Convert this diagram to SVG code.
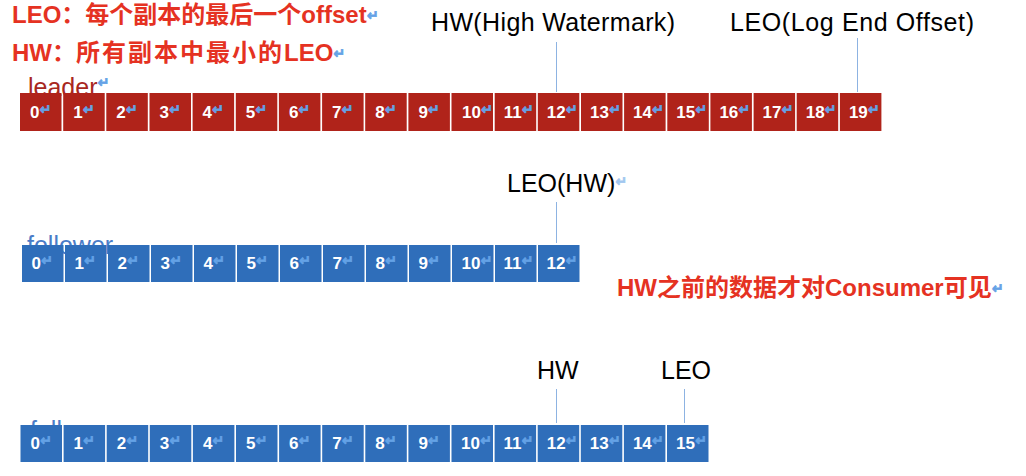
<svg xmlns="http://www.w3.org/2000/svg" width="1026" height="476" viewBox="0 0 1026 476">
<style>
.lb{fill:#b0231a}
.fb{fill:#2f6eba}
.n{font-family:"Liberation Sans",Arial,sans-serif;font-weight:bold;font-size:17px;fill:#fff}
.r{font-family:"DejaVu Sans",sans-serif;font-weight:bold;font-size:14px;fill:#64a2e6;stroke:#64a2e6;stroke-width:0.7}
.lbl{font-family:"Liberation Sans",Arial,sans-serif;font-size:25px;fill:#000}
.red{font-family:"Liberation Sans","Noto Sans CJK SC",sans-serif;font-weight:bold;font-size:24px;fill:#e53222}
.row{font-family:"Liberation Sans",Arial,sans-serif;font-size:25px}
.conn line{stroke:#8db3e2;stroke-width:1}
</style>
<defs>
<clipPath id="hide3"><rect x="0" y="400" width="200" height="25"/></clipPath>
</defs>
<rect width="1026" height="476" fill="#fff"/>

<g id="notes">
<text class="red" x="12" y="23">LEO：每个副本的最后一个offset<tspan class="r" font-size="16" dy="-3">↵</tspan></text>
<text class="red" x="12" y="61">HW：<tspan letter-spacing="2">所有副本中最小的</tspan>LEO<tspan class="r" font-size="16" dy="-3">↵</tspan></text>
<text class="red" x="617" y="296">HW之前的数据才对Consumer可见<tspan class="r" font-size="16" dy="-3">↵</tspan></text>
</g>

<g id="row-labels">
<text class="row" x="28" y="96" fill="#a8281e">leader<tspan class="r" font-size="14" dy="-9">↵</tspan></text>
<text class="row" x="27" y="254" fill="#4a7cc8">follower</text>
<g clip-path="url(#hide3)"><text class="row" x="30" y="439" fill="#4a7cc8">follower</text></g>
</g>

<g id="labels">
<text class="lbl" x="431" y="31" textLength="244">HW(High Watermark)</text>
<text class="lbl" x="730" y="31" textLength="244">LEO(Log End Offset)</text>
<text class="lbl" x="507" y="192">LEO(HW)<tspan class="r" font-size="11" dy="-6" opacity="0.6">↵</tspan></text>
<text class="lbl" x="537" y="379">HW</text>
<text class="lbl" x="661" y="379">LEO</text>
</g>

<g id="connectors" class="conn">
<line x1="556.5" y1="42" x2="556.5" y2="92"/>
<line x1="857.5" y1="38" x2="857.5" y2="92"/>
<line x1="556.5" y1="202" x2="556.5" y2="243"/>
<line x1="556.5" y1="389" x2="556.5" y2="423"/>
<line x1="684.5" y1="389" x2="684.5" y2="423"/>
</g>

<g id="leader">
<g id="leader-0"><rect class="lb" x="20" y="93" width="41.5" height="38"/><text class="n" x="30" y="117.5">0<tspan class="r" dy="-4">↵</tspan></text></g>
<g id="leader-1"><rect class="lb" x="63.2" y="93" width="41.5" height="38"/><text class="n" x="73.2" y="117.5">1<tspan class="r" dy="-4">↵</tspan></text></g>
<g id="leader-2"><rect class="lb" x="106.3" y="93" width="41.5" height="38"/><text class="n" x="116.3" y="117.5">2<tspan class="r" dy="-4">↵</tspan></text></g>
<g id="leader-3"><rect class="lb" x="149.5" y="93" width="41.5" height="38"/><text class="n" x="159.5" y="117.5">3<tspan class="r" dy="-4">↵</tspan></text></g>
<g id="leader-4"><rect class="lb" x="192.6" y="93" width="41.5" height="38"/><text class="n" x="202.6" y="117.5">4<tspan class="r" dy="-4">↵</tspan></text></g>
<g id="leader-5"><rect class="lb" x="235.8" y="93" width="41.5" height="38"/><text class="n" x="245.8" y="117.5">5<tspan class="r" dy="-4">↵</tspan></text></g>
<g id="leader-6"><rect class="lb" x="278.9" y="93" width="41.5" height="38"/><text class="n" x="288.9" y="117.5">6<tspan class="r" dy="-4">↵</tspan></text></g>
<g id="leader-7"><rect class="lb" x="322.1" y="93" width="41.5" height="38"/><text class="n" x="332.1" y="117.5">7<tspan class="r" dy="-4">↵</tspan></text></g>
<g id="leader-8"><rect class="lb" x="365.2" y="93" width="41.5" height="38"/><text class="n" x="375.2" y="117.5">8<tspan class="r" dy="-4">↵</tspan></text></g>
<g id="leader-9"><rect class="lb" x="408.4" y="93" width="41.5" height="38"/><text class="n" x="418.4" y="117.5">9<tspan class="r" dy="-4">↵</tspan></text></g>
<g id="leader-10"><rect class="lb" x="451.5" y="93" width="41.5" height="38"/><text class="n" x="462" y="117.5">10<tspan class="r" dy="-4">↵</tspan></text></g>
<g id="leader-11"><rect class="lb" x="494.7" y="93" width="41.5" height="38"/><text class="n" x="503.7" y="117.5">11<tspan class="r" dy="-4">↵</tspan></text></g>
<g id="leader-12"><rect class="lb" x="537.8" y="93" width="41.5" height="38"/><text class="n" x="546.8" y="117.5">12<tspan class="r" dy="-4">↵</tspan></text></g>
<g id="leader-13"><rect class="lb" x="581" y="93" width="41.5" height="38"/><text class="n" x="590" y="117.5">13<tspan class="r" dy="-4">↵</tspan></text></g>
<g id="leader-14"><rect class="lb" x="624.1" y="93" width="41.5" height="38"/><text class="n" x="633.1" y="117.5">14<tspan class="r" dy="-4">↵</tspan></text></g>
<g id="leader-15"><rect class="lb" x="667.3" y="93" width="41.5" height="38"/><text class="n" x="676.3" y="117.5">15<tspan class="r" dy="-4">↵</tspan></text></g>
<g id="leader-16"><rect class="lb" x="710.4" y="93" width="41.5" height="38"/><text class="n" x="719.4" y="117.5">16<tspan class="r" dy="-4">↵</tspan></text></g>
<g id="leader-17"><rect class="lb" x="753.6" y="93" width="41.5" height="38"/><text class="n" x="762.6" y="117.5">17<tspan class="r" dy="-4">↵</tspan></text></g>
<g id="leader-18"><rect class="lb" x="796.7" y="93" width="41.5" height="38"/><text class="n" x="805.7" y="117.5">18<tspan class="r" dy="-4">↵</tspan></text></g>
<g id="leader-19"><rect class="lb" x="839.9" y="93" width="41.5" height="38"/><text class="n" x="848.9" y="117.5">19<tspan class="r" dy="-4">↵</tspan></text></g>
</g>

<g id="follower-a">
<g id="fa-0"><rect class="fb" x="22" y="245" width="41.5" height="37"/><text class="n" x="31.5" y="269">0<tspan class="r" dy="-4">↵</tspan></text></g>
<g id="fa-1"><rect class="fb" x="65" y="245" width="41.5" height="37"/><text class="n" x="74.5" y="269">1<tspan class="r" dy="-4">↵</tspan></text></g>
<g id="fa-2"><rect class="fb" x="108" y="245" width="41.5" height="37"/><text class="n" x="117.5" y="269">2<tspan class="r" dy="-4">↵</tspan></text></g>
<g id="fa-3"><rect class="fb" x="151" y="245" width="41.5" height="37"/><text class="n" x="160.5" y="269">3<tspan class="r" dy="-4">↵</tspan></text></g>
<g id="fa-4"><rect class="fb" x="194" y="245" width="41.5" height="37"/><text class="n" x="203.5" y="269">4<tspan class="r" dy="-4">↵</tspan></text></g>
<g id="fa-5"><rect class="fb" x="237" y="245" width="41.5" height="37"/><text class="n" x="246.5" y="269">5<tspan class="r" dy="-4">↵</tspan></text></g>
<g id="fa-6"><rect class="fb" x="280" y="245" width="41.5" height="37"/><text class="n" x="289.5" y="269">6<tspan class="r" dy="-4">↵</tspan></text></g>
<g id="fa-7"><rect class="fb" x="323" y="245" width="41.5" height="37"/><text class="n" x="332.5" y="269">7<tspan class="r" dy="-4">↵</tspan></text></g>
<g id="fa-8"><rect class="fb" x="366" y="245" width="41.5" height="37"/><text class="n" x="375.5" y="269">8<tspan class="r" dy="-4">↵</tspan></text></g>
<g id="fa-9"><rect class="fb" x="409" y="245" width="41.5" height="37"/><text class="n" x="418.5" y="269">9<tspan class="r" dy="-4">↵</tspan></text></g>
<g id="fa-10"><rect class="fb" x="452" y="245" width="41.5" height="37"/><text class="n" x="461.5" y="269">10<tspan class="r" dy="-4">↵</tspan></text></g>
<g id="fa-11"><rect class="fb" x="495" y="245" width="41.5" height="37"/><text class="n" x="503.5" y="269">11<tspan class="r" dy="-4">↵</tspan></text></g>
<g id="fa-12"><rect class="fb" x="538" y="245" width="41.5" height="37"/><text class="n" x="546.5" y="269">12<tspan class="r" dy="-4">↵</tspan></text></g>
</g>

<g id="follower-b">
<g id="fb-0"><rect class="fb" x="20.5" y="425" width="41.5" height="37"/><text class="n" x="30.5" y="449">0<tspan class="r" dy="-4">↵</tspan></text></g>
<g id="fb-1"><rect class="fb" x="63.6" y="425" width="41.5" height="37"/><text class="n" x="73.6" y="449">1<tspan class="r" dy="-4">↵</tspan></text></g>
<g id="fb-2"><rect class="fb" x="106.7" y="425" width="41.5" height="37"/><text class="n" x="116.7" y="449">2<tspan class="r" dy="-4">↵</tspan></text></g>
<g id="fb-3"><rect class="fb" x="149.8" y="425" width="41.5" height="37"/><text class="n" x="159.8" y="449">3<tspan class="r" dy="-4">↵</tspan></text></g>
<g id="fb-4"><rect class="fb" x="192.9" y="425" width="41.5" height="37"/><text class="n" x="202.9" y="449">4<tspan class="r" dy="-4">↵</tspan></text></g>
<g id="fb-5"><rect class="fb" x="236" y="425" width="41.5" height="37"/><text class="n" x="246" y="449">5<tspan class="r" dy="-4">↵</tspan></text></g>
<g id="fb-6"><rect class="fb" x="279.1" y="425" width="41.5" height="37"/><text class="n" x="289.1" y="449">6<tspan class="r" dy="-4">↵</tspan></text></g>
<g id="fb-7"><rect class="fb" x="322.2" y="425" width="41.5" height="37"/><text class="n" x="332.2" y="449">7<tspan class="r" dy="-4">↵</tspan></text></g>
<g id="fb-8"><rect class="fb" x="365.3" y="425" width="41.5" height="37"/><text class="n" x="375.3" y="449">8<tspan class="r" dy="-4">↵</tspan></text></g>
<g id="fb-9"><rect class="fb" x="408.4" y="425" width="41.5" height="37"/><text class="n" x="418.4" y="449">9<tspan class="r" dy="-4">↵</tspan></text></g>
<g id="fb-10"><rect class="fb" x="451.5" y="425" width="41.5" height="37"/><text class="n" x="461" y="449">10<tspan class="r" dy="-4">↵</tspan></text></g>
<g id="fb-11"><rect class="fb" x="494.6" y="425" width="41.5" height="37"/><text class="n" x="503.6" y="449">11<tspan class="r" dy="-4">↵</tspan></text></g>
<g id="fb-12"><rect class="fb" x="537.7" y="425" width="41.5" height="37"/><text class="n" x="546.7" y="449">12<tspan class="r" dy="-4">↵</tspan></text></g>
<g id="fb-13"><rect class="fb" x="580.8" y="425" width="41.5" height="37"/><text class="n" x="589.8" y="449">13<tspan class="r" dy="-4">↵</tspan></text></g>
<g id="fb-14"><rect class="fb" x="623.9" y="425" width="41.5" height="37"/><text class="n" x="632.9" y="449">14<tspan class="r" dy="-4">↵</tspan></text></g>
<g id="fb-15"><rect class="fb" x="667" y="425" width="41.5" height="37"/><text class="n" x="676" y="449">15<tspan class="r" dy="-4">↵</tspan></text></g>
</g>
</svg>
